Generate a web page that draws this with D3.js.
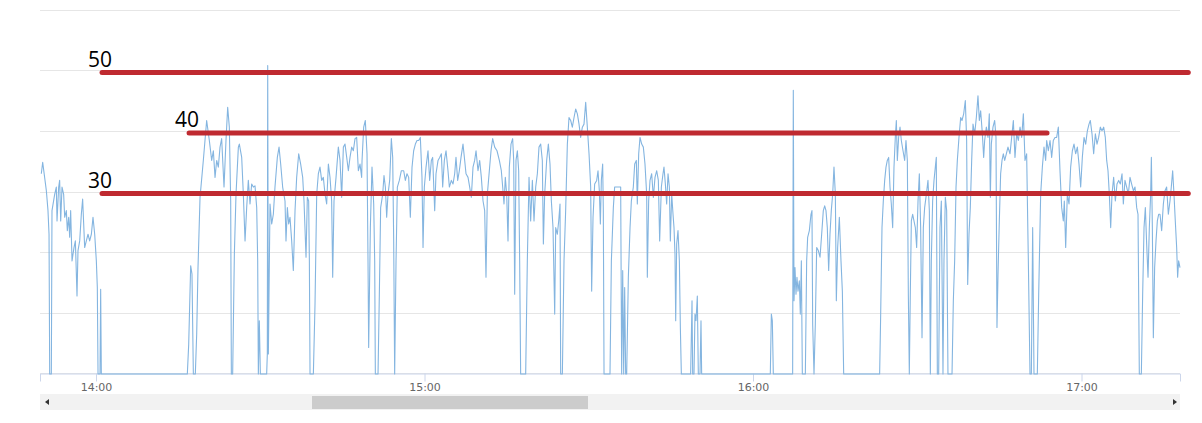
<!DOCTYPE html>
<html>
<head>
<meta charset="utf-8">
<script src="https://cdn.jsdelivr.net/npm/d3@7"></script>
<style>
  html, body { margin: 0; padding: 0; background: #fff; }
  svg { display: block; }
</style>
</head>
<body>
<svg id="chart" width="1202" height="423"></svg>
<script>
// ---- DATA ----
// minutes after 14:00
const minutes = [
-9.99,-9.74,-9.07,-8.77,-8.58,-8.46,-8.16,-8.04,-7.55,-7.25,-7.12,-6.82,-6.64,-6.45,-6.21,-5.91,-5.72,-5.42,-5.24,-4.99,-4.81,-4.63,-4.38,-4.02,-3.77,-3.47,-3.29,-2.98,-2.68,-2.44,-2.07,-1.77,-1.46,-1.16,-0.85,-0.55,-0.24,0.06,0.24,0.37,0.73,0.85,0.97,16.68,16.93,17.29,17.53,17.78,18.14,18.39,18.63,
19.00,19.60,20.21,20.70,21.13,21.43,21.74,22.04,22.34,22.65,22.95,23.38,23.74,24.05,24.35,24.60,24.72,24.96,25.27,25.57,26.00,26.18,26.61,26.91,27.22,27.52,27.82,28.13,28.43,28.74,29.04,29.35,29.53,29.65,29.83,30.02,31.17,31.29,31.36,31.48,31.60,31.78,32.09,32.39,32.69,33.12,33.43,33.73,34.09,34.52,34.70,34.95,35.19,35.43,35.74,36.04,36.35,36.65,37.02,37.38,37.75,37.99,38.36,38.60,38.84,38.97,39.09,39.70,40.00,40.31,40.61,40.91,41.22,41.52,41.83,42.13,42.44,42.74,43.04,43.23,43.47,43.84,44.26,44.57,44.87,45.18,45.48,45.79,46.09,46.39,46.70,47.00,47.31,47.61,47.92,48.22,48.52,
48.59,48.89,49.19,49.50,49.68,49.80,50.11,50.41,50.72,50.90,51.02,51.51,51.75,51.99,52.36,52.60,52.85,53.09,53.33,53.64,53.94,54.19,54.37,54.55,54.80,55.04,55.40,55.77,56.20,56.50,56.80,57.11,57.41,57.72,58.02,58.33,58.63,58.94,59.24,59.54,59.73,59.97,60.28,60.64,60.94,61.25,61.49,61.86,62.10,62.47,62.77,63.08,63.32,63.62,63.93,64.29,64.54,64.90,65.21,65.51,65.75,66.06,66.36,66.67,67.03,67.34,67.58,67.95,68.25,68.55,68.86,69.16,69.41,69.77,70.08,70.38,70.69,70.99,71.23,71.48,71.84,72.15,72.45,72.82,73.24,73.67,74.03,74.28,74.52,74.76,75.01,75.25,75.49,75.80,76.10,76.29,76.47,76.71,76.96,77.20,77.38,77.56,
78.48,78.78,79.09,79.39,79.70,80.00,80.31,80.61,80.91,81.22,81.52,81.71,81.95,82.31,82.62,82.92,83.17,83.47,83.78,83.96,84.26,84.51,84.75,84.87,85.18,85.48,85.78,86.09,86.39,86.70,87.00,87.31,87.61,87.92,88.22,88.52,88.83,89.13,89.44,89.74,90.05,90.35,90.53,90.78,91.08,91.45,91.69,91.93,92.12,92.30,92.54,92.66,92.79,93.88,94.13,94.49,94.73,95.83,96.01,96.20,96.38,96.56,96.74,96.93,97.23,97.54,97.78,98.14,98.39,98.69,98.87,99.12,99.36,99.67,99.97,100.27,100.58,100.70,100.94,101.19,101.49,101.80,102.10,102.41,102.71,102.95,103.26,103.56,103.74,103.99,104.23,104.48,104.72,104.90,105.15,105.39,105.57,105.75,105.88,106.06,106.30,106.55,106.73,106.91,
108.61,108.86,108.98,109.22,109.40,109.59,109.83,110.01,110.32,110.50,110.62,123.16,123.35,123.53,123.71,127.24,127.36,127.49,127.67,127.85,128.03,128.22,128.46,128.64,128.83,129.01,129.56,129.80,129.98,130.29,130.59,130.77,130.90,131.14,131.38,131.63,131.93,132.24,132.54,132.84,133.09,133.33,133.57,133.82,134.06,134.30,134.55,134.79,135.04,135.22,135.46,135.77,136.07,136.32,136.56,
143.13,143.32,143.56,143.80,144.05,144.29,144.53,144.78,145.02,145.26,145.51,145.75,145.99,146.18,146.36,146.60,146.85,147.09,147.40,147.70,147.94,148.19,148.37,148.55,148.73,148.92,149.16,149.40,149.65,149.89,150.14,150.38,150.62,150.87,151.11,151.35,151.66,151.96,152.21,152.39,152.57,152.81,153.06,153.30,153.48,153.67,153.91,154.15,154.40,154.70,154.88,155.13,155.37,155.61,156.35,156.59,156.83,157.08,157.32,157.62,157.93,158.17,158.48,158.78,159.02,159.21,159.45,159.69,159.94,160.18,160.49,160.79,161.09,161.34,161.58,161.89,162.13,162.31,162.62,162.92,163.16,163.35,163.53,163.83,164.14,164.38,164.56,164.75,164.99,165.23,165.48,165.72,165.97,166.27,166.57,166.94,
167.24,167.55,167.85,168.16,168.46,168.77,169.07,169.38,169.68,169.98,170.29,170.59,170.84,171.08,171.32,171.93,172.18,172.54,172.85,173.15,173.45,173.64,173.94,174.25,174.55,174.85,175.16,175.46,175.77,176.07,176.38,176.68,176.86,177.11,177.41,177.72,178.02,178.33,178.63,178.93,179.24,179.54,179.85,180.15,180.46,180.76,181.07,181.37,181.61,181.92,182.22,182.53,182.83,183.13,183.44,183.74,184.05,184.35,184.60,184.84,185.08,185.33,185.57,185.87,186.18,186.48,186.79,187.09,187.40,187.64,187.94,188.25,188.55,188.86,189.16,189.47,189.77,190.08,190.32,190.56,190.93,191.17,191.42,191.66,191.90,192.15,192.39,192.63,192.76,192.94,193.12,193.36,193.61,193.85,194.09,194.34,194.64,194.95,195.25,195.55,195.86,196.16,196.40,196.65,196.89,197.13,197.38,197.56,197.74,197.99
];
const values = [
33.1,35.0,30.3,27.0,23.1,0,0,27.0,29.7,30.9,25.3,30.9,32.0,25.3,30.9,29.7,25.9,27.0,23.7,25.9,22.6,27.0,18.7,20.9,22.0,12.9,20.4,22.0,26.4,28.9,20.9,22.0,23.1,22.0,23.1,25.9,23.1,18.7,14.3,0,0,14.0,0,0,4.9,17.9,16.5,0,0,6.6,17.6,
29.2,35.3,41.9,38.6,35.3,36.9,32.5,35.3,34.2,37.5,38.9,30.9,38.6,44.1,40.8,28.6,0,0,19.8,29.7,37.5,38.0,35.8,29.7,22.0,27.5,32.0,28.1,31.4,30.9,31.1,27.5,18.7,0,8.8,0,0,3.3,51.0,3.3,13.2,28.1,24.8,26.4,30.9,35.8,37.5,34.7,30.9,28.6,22.0,27.5,24.8,25.9,22.0,17.1,27.0,32.5,36.4,34.7,32.5,28.6,19.3,29.2,28.6,18.7,0,0,11.5,29.7,33.1,34.2,32.0,32.5,29.7,28.1,34.7,32.5,28.6,16.0,28.6,32.5,37.5,35.3,29.2,37.5,38.0,35.8,33.6,35.8,37.5,36.9,38.9,39.1,33.6,34.7,32.5,
35.3,40.8,41.9,36.4,18.7,4.4,24.2,34.2,28.1,18.7,0,0,13.2,27.5,29.7,32.8,30.9,25.9,29.7,32.0,38.9,35.8,22.0,0,18.7,30.9,32.0,33.6,33.6,32.0,33.1,32.5,25.9,34.2,36.9,38.0,38.6,38.6,39.1,32.5,20.9,30.9,34.2,36.9,32.0,35.3,35.8,27.0,33.1,35.3,35.8,36.4,30.9,35.3,36.9,33.6,30.9,32.0,31.4,33.1,35.8,32.0,33.6,35.8,38.0,35.3,33.1,32.5,30.9,29.2,34.2,35.3,36.9,33.6,35.3,32.5,28.6,27.0,16.0,29.7,33.6,36.9,38.9,37.5,36.9,35.3,33.6,30.9,28.1,32.5,29.7,22.0,34.2,38.0,38.9,35.3,13.2,35.3,36.9,33.6,18.7,0,
0,18.7,32.5,25.3,32.0,25.3,30.9,33.1,37.5,38.0,35.3,21.5,29.7,35.3,38.0,34.7,28.6,24.2,9.9,24.2,23.1,25.3,28.1,0,0,18.7,27.0,38.0,42.4,41.9,40.8,42.4,43.8,43.0,41.3,39.1,40.8,41.3,44.9,40.8,36.4,30.9,13.7,25.9,31.4,32.0,33.6,30.3,24.8,32.0,34.7,27.0,0,0,18.7,27.5,30.9,30.9,0,17.1,0,14.3,0,0,16.0,24.2,28.6,30.9,34.7,35.3,28.1,36.4,39.1,38.0,37.5,34.7,29.7,16.0,28.6,32.0,33.1,29.2,32.5,33.6,32.0,22.0,30.9,33.1,34.2,31.4,28.1,33.1,30.9,22.0,29.7,26.4,24.2,19.8,8.8,21.5,23.7,18.7,7.7,0,
0,12.1,0,0,9.9,8.8,12.9,0,0,8.8,0,0,9.9,8.8,0,0,46.9,12.1,17.6,13.2,16.0,13.7,15.4,9.9,18.7,0,0,18.7,22.6,23.7,26.4,27.0,8.2,0,8.2,20.9,20.4,19.3,23.1,27.0,27.8,27.0,24.2,17.1,23.1,27.0,29.7,34.2,29.7,12.1,20.9,25.9,18.7,13.7,0,
0,9.9,24.2,28.6,32.0,34.2,35.3,35.8,30.9,28.1,24.2,34.2,39.1,41.9,35.3,39.1,40.8,38.6,36.9,35.3,38.6,35.3,13.2,0,13.2,25.3,26.4,25.3,24.2,20.9,28.6,33.1,24.2,6.0,24.2,27.5,29.7,32.0,27.0,0,18.7,28.6,32.0,34.2,35.8,0,0,24.2,28.6,0,18.7,29.2,27.0,0,0,12.1,18.7,30.9,35.3,39.1,42.4,41.9,43.0,45.2,38.6,14.8,23.1,27.5,35.3,41.3,39.7,42.4,46.0,41.9,43.5,39.7,35.8,38.6,40.8,39.1,43.0,29.2,38.0,40.8,41.9,39.1,7.7,16.5,25.3,33.1,35.3,36.4,35.3,36.4,37.5,36.4,
39.1,41.9,35.8,39.7,38.6,40.8,39.1,43.0,35.3,36.4,18.7,0,0,24.2,0,0,13.2,29.7,34.2,37.5,35.3,38.6,36.9,38.6,35.8,38.6,39.1,39.1,40.8,33.6,27.5,25.3,28.6,20.9,29.7,28.1,34.2,36.9,38.0,36.4,37.5,34.7,30.9,35.8,39.1,38.0,40.2,41.3,41.9,39.7,36.4,39.7,38.0,39.1,40.8,40.2,40.8,39.1,35.3,33.6,29.7,24.2,29.7,32.5,28.6,31.4,32.0,31.4,33.1,28.1,32.0,30.9,29.7,32.5,31.4,30.3,30.9,27.5,26.4,0,0,13.2,24.2,27.5,21.5,16.0,24.2,29.7,35.8,24.2,6.0,17.6,22.0,25.3,26.4,26.4,23.7,28.1,30.3,30.9,26.4,28.6,30.9,33.6,29.7,25.3,20.9,16.0,18.7,17.6
];

// axis
const yTicks = [0, 10, 20, 30, 40, 50, 60];
const xTickLabels = ["14:00", "15:00", "16:00", "17:00"];
const xDomainMinutes = [-10.23, 197.99];

// reference lines (annotations)
const refValues = [50, 40, 30];
const refStartMinutes = [1.1, 17.0, 1.1];
const refEndMinutes = [199.5, 173.7, 199.5];

// ---- DRAW ----
const base = new Date(2024, 0, 1, 14, 0, 0).getTime();
const toDate = m => new Date(base + m * 60000);
const data = minutes.map((m, i) => ({ t: toDate(m), v: values[i] }));

const svg = d3.select("#chart");
const plot = { left: 40, right: 1180, top: 11, bottom: 374 };

const x = d3.scaleTime()
  .domain(xDomainMinutes.map(toDate))
  .range([plot.left, plot.right]);
const y = d3.scaleLinear()
  .domain([0, 60])
  .range([plot.bottom, plot.top]);

// gridlines
svg.append("g").selectAll("line")
  .data(yTicks).join("line")
  .attr("x1", plot.left).attr("x2", plot.right)
  .attr("y1", d => Math.round(y(d)) - 0.5).attr("y2", d => Math.round(y(d)) - 0.5)
  .attr("stroke", "#e6e6e6").attr("stroke-width", 1);

// x axis
const tickDates = xTickLabels.map(s => {
  const [h, mm] = s.split(":").map(Number);
  return toDate((h - 14) * 60 + mm);
});
const xAxis = d3.axisBottom(x)
  .tickValues(tickDates)
  .tickFormat((d, i) => xTickLabels[i])
  .tickSize(8)
  .tickPadding(5);
const gx = svg.append("g")
  .attr("transform", `translate(0,${plot.bottom - 0.5})`)
  .call(xAxis);
gx.select(".domain").attr("stroke", "#ccd6eb");
gx.selectAll(".tick line").attr("stroke", "#ccd6eb");
gx.selectAll(".tick text")
  .attr("fill", "#666666")
  .attr("font-family", "'DejaVu Sans', sans-serif")
  .attr("font-size", "11px")
  .attr("dy", "0.45em");

// series line
const line = d3.line()
  .x(d => x(d.t))
  .y(d => y(d.v));
svg.append("path")
  .datum(data)
  .attr("fill", "none")
  .attr("stroke", "#84b5e0")
  .attr("stroke-width", 1.1)
  .attr("stroke-linejoin", "round")
  .attr("d", line);

// reference lines
const refs = refValues.map((v, i) => ({ v, s: toDate(refStartMinutes[i]), e: toDate(refEndMinutes[i]) }));
const gRef = svg.append("g");
gRef.selectAll("line")
  .data(refs).join("line")
  .attr("x1", d => x(d.s)).attr("x2", d => x(d.e))
  .attr("y1", d => y(d.v) + 1).attr("y2", d => y(d.v) + 1)
  .attr("stroke", "#bf2a30")
  .attr("stroke-width", 5)
  .attr("stroke-linecap", "round");
gRef.selectAll("text")
  .data(refs).join("text")
  .attr("x", d => x(d.s) - 14)
  .attr("y", d => y(d.v) - 5)
  .attr("font-family", "'Open Sans', sans-serif")
  .attr("font-size", "21px")
  .attr("fill", "#000")
  .text(d => d.v);

// scrollbar (navigator chrome)
const sb = svg.append("g");
sb.append("rect").attr("x", plot.left).attr("y", 394).attr("width", plot.right - plot.left).attr("height", 16).attr("fill", "#f2f2f2");
sb.append("rect").attr("x", 312).attr("y", 396).attr("width", 276).attr("height", 13).attr("fill", "#cccccc");
sb.append("path").attr("d", "M49,399 L45,402 L49,405 Z").attr("fill", "#333");
sb.append("path").attr("d", "M1173,399 L1177,402 L1173,405 Z").attr("fill", "#333");
</script>
</body>
</html>
